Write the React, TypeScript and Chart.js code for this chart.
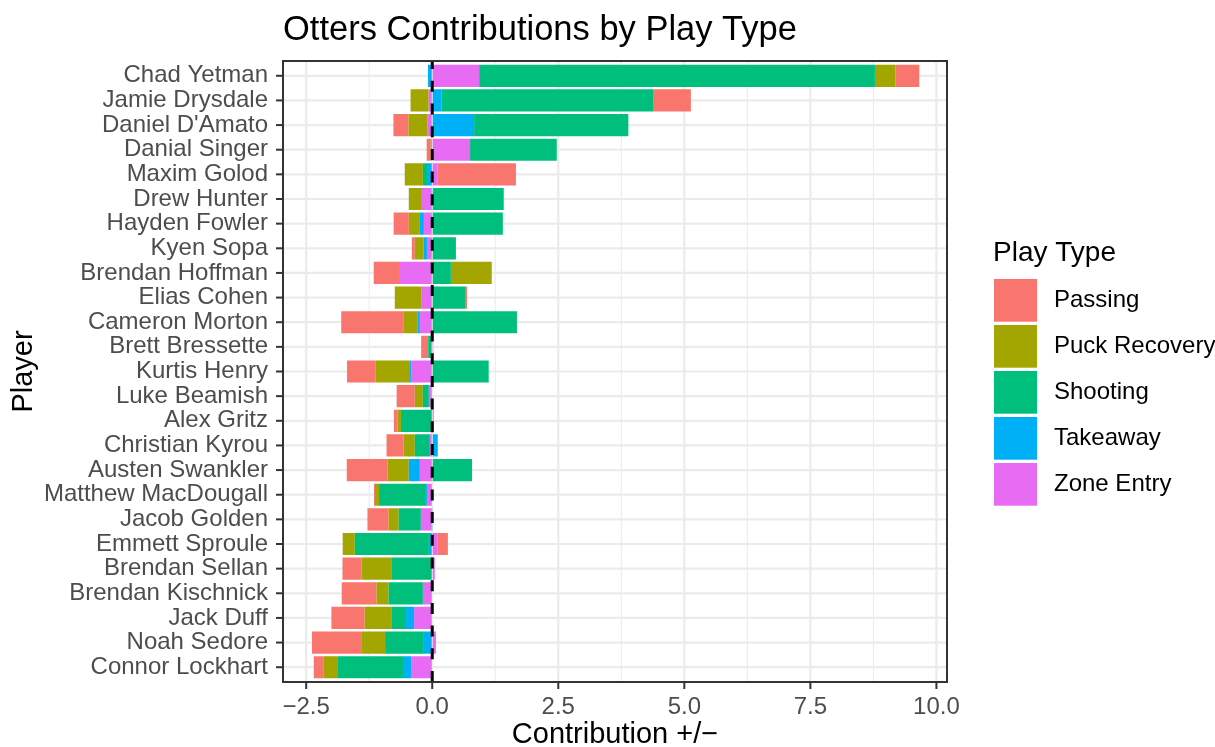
import React, { useEffect, useRef } from "react";
import { Chart, registerables } from "chart.js";

Chart.register(...registerables);

// ---------------- data ----------------
const players = [
  "Chad Yetman",
  "Jamie Drysdale",
  "Daniel D'Amato",
  "Danial Singer",
  "Maxim Golod",
  "Drew Hunter",
  "Hayden Fowler",
  "Kyen Sopa",
  "Brendan Hoffman",
  "Elias Cohen",
  "Cameron Morton",
  "Brett Bressette",
  "Kurtis Henry",
  "Luke Beamish",
  "Alex Gritz",
  "Christian Kyrou",
  "Austen Swankler",
  "Matthew MacDougall",
  "Jacob Golden",
  "Emmett Sproule",
  "Brendan Sellan",
  "Brendan Kischnick",
  "Jack Duff",
  "Noah Sedore",
  "Connor Lockhart",
];

const passing = [
  0.47, 0.75, -0.30, -0.08, 1.55, 0.02, -0.30, -0.06, -0.52, 0.04, -1.23, -0.14, -0.57,
  -0.36, -0.07, -0.34, -0.81, -0.02, -0.42, 0.20, -0.38, -0.69, -0.66, -0.99, -0.20,
];
const puckRecovery = [
  0.41, -0.36, -0.38, -0.03, -0.36, -0.26, -0.22, -0.17, 0.81, -0.52, -0.28, 0, -0.68,
  -0.16, -0.07, -0.22, -0.42, -0.08, -0.20, -0.24, -0.60, -0.24, -0.54, -0.46, -0.28,
];
const shooting = [
  7.85, 4.20, 3.06, 1.72, -0.10, 1.37, 1.40, 0.47, 0.37, 0.65, 1.68, -0.06, 1.12,
  -0.12, -0.62, -0.30, 0.79, -0.93, -0.44, -1.47, -0.80, -0.68, -0.28, -0.77, -1.29,
];
const takeaway = [
  -0.085, 0.18, 0.83, 0, -0.085, 0.035, -0.08, -0.07, 0, -0.013, -0.05, -0.02, -0.02,
  0, 0, 0.11, -0.22, -0.02, 0.015, -0.066, 0, 0, -0.16, -0.165, -0.16,
];
const zoneEntry = [
  0.93, -0.07, -0.09, 0.75, 0.11, -0.205, -0.165, -0.105, -0.64, -0.21, -0.245, 0.02, -0.42,
  -0.066, 0.03, -0.046, -0.245, -0.105, -0.225, 0.11, 0.05, -0.185, -0.36, 0.073, -0.42,
];

const playTypes = ["Passing", "Puck Recovery", "Shooting", "Takeaway", "Zone Entry"];
const typeColors = ["#F8766D", "#A3A500", "#00BF7D", "#00B0F6", "#E76BF3"];
const seriesValues = [passing, puckRecovery, shooting, takeaway, zoneEntry];
// ggplot stacks the last factor level nearest to zero
const stackOrder = [4, 3, 2, 1, 0];

const xMajorTicks = [-2.5, 0, 2.5, 5, 7.5, 10];
const xMinorTicks = [-1.25, 1.25, 3.75, 6.25, 8.75];
const xTickLabels = ["\u22122.5", "0.0", "2.5", "5.0", "7.5", "10.0"];
const X_MIN = -2.96;
const X_MAX = 10.21;

const chartTitle = "Otters Contributions by Play Type";
const xTitle = "Contribution +/\u2212";
const yTitle = "Player";
const legendTitle = "Play Type";

// ---------------- layout ----------------
const W = 1215;
const H = 747;
const FONT = '"Liberation Sans", Arimo, Arial, Helvetica, sans-serif';
const PANEL_LEFT = 283;
const PANEL_RIGHT = 947;
const PANEL_TOP = 61;
const PANEL_BOTTOM = 682;
// ggplot discrete expansion is 0.6 units, Chart.js offset is 0.5 units
const N = players.length;
const UNIT = (PANEL_BOTTOM - PANEL_TOP) / (N + 0.2);
const EXT = UNIT * 0.1;

const ggPlugin = {
  id: "ggDecor",
  beforeDatasetsDraw(chart: any) {
    const { ctx, chartArea: ca, scales } = chart;
    const xs = scales.x;
    const ys = scales.y;
    const top = ca.top - EXT;
    const bottom = ca.bottom + EXT;
    ctx.save();
    ctx.strokeStyle = "#EBEBEB";
    ctx.lineWidth = 1.1;
    for (const v of xMinorTicks) {
      const x = xs.getPixelForValue(v);
      ctx.beginPath();
      ctx.moveTo(x, top);
      ctx.lineTo(x, bottom);
      ctx.stroke();
    }
    ctx.lineWidth = 2.2;
    for (const v of xMajorTicks) {
      const x = xs.getPixelForValue(v);
      ctx.beginPath();
      ctx.moveTo(x, top);
      ctx.lineTo(x, bottom);
      ctx.stroke();
    }
    for (let i = 0; i < N; i++) {
      const y = ys.getPixelForValue(i);
      ctx.beginPath();
      ctx.moveTo(ca.left, y);
      ctx.lineTo(ca.right, y);
      ctx.stroke();
    }
    // tick marks
    ctx.strokeStyle = "#333333";
    ctx.lineWidth = 2;
    for (const v of xMajorTicks) {
      const x = xs.getPixelForValue(v);
      ctx.beginPath();
      ctx.moveTo(x, bottom);
      ctx.lineTo(x, bottom + 7);
      ctx.stroke();
    }
    for (let i = 0; i < N; i++) {
      const y = ys.getPixelForValue(i);
      ctx.beginPath();
      ctx.moveTo(ca.left - 7, y);
      ctx.lineTo(ca.left, y);
      ctx.stroke();
    }
    ctx.restore();
  },
  afterDatasetsDraw(chart: any) {
    const { ctx, chartArea: ca, scales } = chart;
    const top = ca.top - EXT;
    const bottom = ca.bottom + EXT;
    const x0 = scales.x.getPixelForValue(0);
    ctx.save();
    ctx.beginPath();
    ctx.rect(ca.left, top, ca.right - ca.left, bottom - top);
    ctx.clip();
    ctx.strokeStyle = "#000000";
    ctx.lineWidth = 3;
    ctx.setLineDash([11, 11.7]);
    ctx.beginPath();
    ctx.moveTo(x0, bottom);
    ctx.lineTo(x0, top);
    ctx.stroke();
    ctx.restore();

    ctx.save();
    ctx.strokeStyle = "#333333";
    ctx.lineWidth = 2;
    ctx.strokeRect(ca.left, top, ca.right - ca.left, bottom - top);
    ctx.restore();
  },
  afterDraw(chart: any) {
    const { ctx, chartArea: ca } = chart;
    const top = ca.top - EXT;
    const bottom = ca.bottom + EXT;
    ctx.save();
    ctx.fillStyle = "#000000";
    // title
    ctx.font = `34.5px ${FONT}`;
    ctx.textAlign = "left";
    ctx.textBaseline = "alphabetic";
    ctx.fillText(chartTitle, ca.left, 40);
    // x title
    ctx.font = `29px ${FONT}`;
    ctx.textAlign = "center";
    ctx.fillText(xTitle, (ca.left + ca.right) / 2, 743);
    // y title
    ctx.save();
    ctx.translate(32, (top + bottom) / 2);
    ctx.rotate(-Math.PI / 2);
    ctx.textAlign = "center";
    ctx.textBaseline = "alphabetic";
    ctx.fillText(yTitle, 0, 0);
    ctx.restore();
    // legend
    ctx.font = `28px ${FONT}`;
    ctx.textAlign = "left";
    ctx.textBaseline = "alphabetic";
    ctx.fillText(legendTitle, 993, 261);
    ctx.font = `24px ${FONT}`;
    ctx.textBaseline = "middle";
    playTypes.forEach((name, i) => {
      const y = 279 + i * 46;
      ctx.fillStyle = typeColors[i];
      ctx.fillRect(994, y, 43, 42.7);
      ctx.fillStyle = "#000000";
      ctx.fillText(name, 1054, y + 21.5);
    });
    ctx.restore();
  },
};

export default function App() {
  const ref = useRef<HTMLCanvasElement | null>(null);

  useEffect(() => {
    const canvas = ref.current;
    if (!canvas) return;
    const datasets = stackOrder.map((i) => ({
      label: playTypes[i],
      data: seriesValues[i].map((v) => (v === 0 ? null : v)),
      backgroundColor: typeColors[i],
      borderWidth: 0,
      barPercentage: 1,
      categoryPercentage: 0.9,
      stack: "all",
    }));
    const chart = new Chart(canvas, {
      type: "bar",
      data: { labels: players, datasets },
      options: {
        indexAxis: "y",
        responsive: false,
        animation: false,
        devicePixelRatio: 1,
        layout: {
          padding: { left: 0, right: W - PANEL_RIGHT, top: PANEL_TOP + EXT, bottom: 0 },
        },
        plugins: {
          legend: { display: false },
          title: { display: false },
          tooltip: { enabled: false },
        },
        scales: {
          x: {
            type: "linear",
            min: X_MIN,
            max: X_MAX,
            stacked: true,
            afterBuildTicks: (s: any) => {
              s.ticks = xMajorTicks.map((v) => ({ value: v }));
            },
            afterFit: (s: any) => {
              s.height = H - (PANEL_BOTTOM - EXT);
            },
            grid: {
              display: true,
              color: "rgba(0,0,0,0)",
              drawTicks: true,
              tickLength: 7 + EXT,
              tickColor: "rgba(0,0,0,0)",
            },
            border: { display: false },
            ticks: {
              autoSkip: false,
              maxRotation: 0,
              padding: 4,
              color: "#4D4D4D",
              font: { family: FONT, size: 24 },
              callback: (v: any) => {
                const idx = xMajorTicks.indexOf(Number(v));
                return idx >= 0 ? xTickLabels[idx] : "";
              },
            },
          },
          y: {
            type: "category",
            stacked: true,
            offset: true,
            afterFit: (s: any) => {
              s.width = PANEL_LEFT;
            },
            grid: {
              display: true,
              offset: false,
              color: "rgba(0,0,0,0)",
              drawTicks: true,
              tickLength: 7,
              tickColor: "rgba(0,0,0,0)",
            },
            border: { display: false },
            ticks: {
              autoSkip: false,
              padding: 8,
              color: "#4D4D4D",
              font: { family: FONT, size: 24 },
            },
          },
        },
      },
      plugins: [ggPlugin],
    } as any);
    return () => chart.destroy();
  }, []);

  return (
    <div
      style={{
        position: "fixed",
        left: 0,
        top: 0,
        width: W,
        height: H,
        background: "#ffffff",
      }}
    >
      <canvas ref={ref} width={W} height={H} style={{ display: "block", width: W, height: H }} />
    </div>
  );
}
